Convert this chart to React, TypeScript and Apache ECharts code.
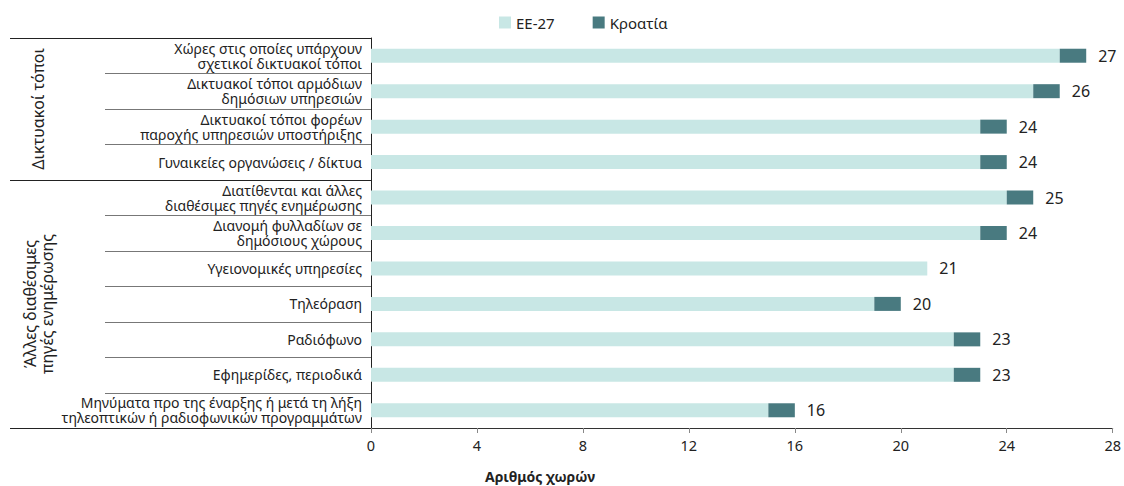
import React, { useEffect, useRef } from "react";
import * as echarts from "echarts";

const categories = [
  "Χώρες στις οποίες υπάρχουν\nσχετικοί δικτυακοί τόποι",
  "Δικτυακοί τόποι αρμόδιων\nδημόσιων υπηρεσιών",
  "Δικτυακοί τόποι φορέων\nπαροχής υπηρεσιών υποστήριξης",
  "Γυναικείες οργανώσεις / δίκτυα",
  "Διατίθενται και άλλες\nδιαθέσιμες πηγές ενημέρωσης",
  "Διανομή φυλλαδίων σε\nδημόσιους χώρους",
  "Υγειονομικές υπηρεσίες",
  "Τηλεόραση",
  "Ραδιόφωνο",
  "Εφημερίδες, περιοδικά",
  "Μηνύματα προ της έναρξης ή μετά τη λήξη\nτηλεοπτικών ή ραδιοφωνικών προγραμμάτων",
];
const eu27 = [26, 25, 23, 23, 24, 23, 21, 19, 22, 22, 15];
const croatia = [1, 1, 1, 1, 1, 1, 0, 1, 1, 1, 1];
const totals = [27, 26, 24, 24, 25, 24, 21, 20, 23, 23, 16];
const xTicks = [0, 4, 8, 12, 16, 20, 24, 28];
const groups = [
  { name: "Δικτυακοί τόποι", from: 0, to: 3 },
  { name: "Άλλες διαθέσιμες\nπηγές ενημέρωσης", from: 4, to: 10 },
];

const FONT = "'Noto Sans', sans-serif";
const LIGHT = "#c8e7e5";
const DARK = "#497a80";

export default function App() {
  const ref = useRef<HTMLDivElement>(null);
  useEffect(() => {
    if (!ref.current) return;
    document.body.style.margin = "0";
    const chart = echarts.init(ref.current, null, { renderer: "svg" });
    const gridLeft = 371;
    const gridTop = 38;
    chart.setOption({
      animation: false,
      textStyle: { fontFamily: FONT },
      legend: {
        top: 10,
        left: 494,
        itemWidth: 12,
        itemHeight: 12,
        itemGap: 38,
        icon: "rect",
        textStyle: { fontSize: 15, color: "#222", fontFamily: FONT },
        data: ["ΕΕ-27", "Κροατία"],
      },
      grid: { left: gridLeft, right: 11, top: gridTop, bottom: 58 },
      xAxis: {
        type: "value",
        min: 0,
        max: 28,
        interval: 4,
        axisLine: { show: true, lineStyle: { color: "#333", width: 1 } },
        axisTick: { show: true, length: 5, lineStyle: { color: "#888" } },
        splitLine: { show: false },
        axisLabel: {
          fontSize: 14.5,
          color: "#222",
          margin: 9,
          formatter: (v: number) => (xTicks.includes(v) ? String(v) : ""),
        },
      },
      yAxis: {
        type: "category",
        inverse: true,
        data: categories,
        axisLine: { show: true, lineStyle: { color: "#222" } },
        axisTick: { show: false },
        axisLabel: {
          fontSize: 14,
          lineHeight: 15,
          color: "#222",
          margin: 9,
          align: "right",
        },
      },
      series: [
        {
          name: "ΕΕ-27",
          type: "bar",
          stack: "t",
          data: eu27,
          barWidth: 14,
          itemStyle: { color: LIGHT },
        },
        {
          name: "Κροατία",
          type: "bar",
          stack: "t",
          data: croatia,
          barWidth: 14,
          itemStyle: { color: DARK },
          label: {
            show: true,
            position: "right",
            distance: 12,
            fontSize: 16,
            color: "#222",
            formatter: (p: any) => String(totals[p.dataIndex]),
          },
        },
      ],
    });

    const n = categories.length;
    const c0 = chart.convertToPixel({ yAxisIndex: 0 }, 0) as number;
    const c1 = chart.convertToPixel({ yAxisIndex: 0 }, 1) as number;
    const band = c1 - c0;
    const boundary = (i: number) => c0 - band / 2 + i * band;
    const outerLeft = 10;
    const innerLeft = 105;
    const elements: any[] = [];
    for (let i = 0; i <= n; i++) {
      const isOuter = i === 0 || i === n || groups.some((g) => g.from === i);
      const y = Math.round(boundary(i)) + 0.5;
      elements.push({
        type: "line",
        shape: { x1: isOuter ? outerLeft : innerLeft, y1: y, x2: gridLeft, y2: y },
        style: { stroke: isOuter ? "#222" : "#777", lineWidth: 1 },
        silent: true,
      });
    }
    groups.forEach((g) => {
      const yc = (boundary(g.from) + boundary(g.to + 1)) / 2;
      elements.push({
        type: "text",
        x: 38,
        y: yc,
        rotation: Math.PI / 2,
        style: {
          text: g.name,
          fontSize: 16,
          lineHeight: 17,
          fill: "#222",
          fontFamily: FONT,
          align: "center",
          verticalAlign: "middle",
        },
      });
    });
    elements.push({
      type: "text",
      x: 540,
      y: 476,
      style: {
        text: "Αριθμός χωρών",
        fontSize: 14,
        fontWeight: "bold",
        fill: "#222",
        fontFamily: FONT,
        align: "center",
        verticalAlign: "middle",
      },
    });
    chart.setOption({ graphic: { elements } });

    return () => chart.dispose();
  }, []);
  return <div ref={ref} style={{ width: 1124, height: 486 }} />;
}
